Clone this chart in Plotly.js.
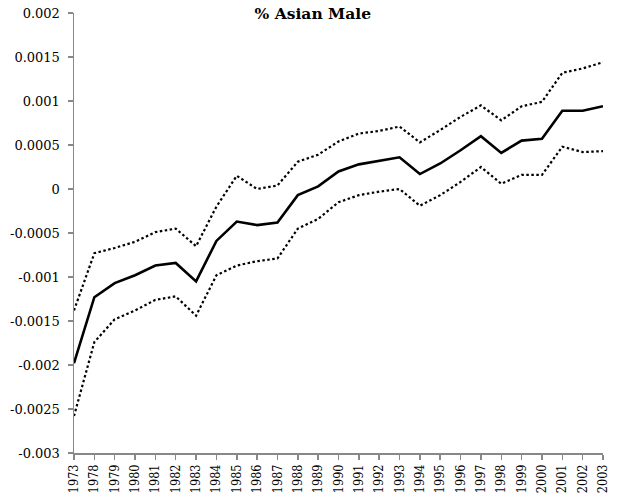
<!DOCTYPE html>
<html>
<head>
<meta charset="utf-8">
<script src="https://cdn.plot.ly/plotly-3.0.1.min.js"></script>
<style>html,body{margin:0;padding:0;background:#fff}#chart{width:617px;height:497px}</style>
</head>
<body>
<div id="chart"></div>
<script>
const years = ["1973","1978","1979","1980","1981","1982","1983","1984","1985","1986","1987","1988","1989","1990","1991","1992","1993","1994","1995","1996","1997","1998","1999","2000","2001","2002","2003"];
const estimate = [-0.00198,-0.00123,-0.00107,-0.00098,-0.00087,-0.00084,-0.00105,-0.00059,-0.00037,-0.00041,-0.00038,-0.00007,0.00003,0.0002,0.00028,0.00032,0.00036,0.00017,0.00029,0.00044,0.0006,0.00041,0.00055,0.00057,0.00089,0.00089,0.00094];
const upper = [-0.00138,-0.00073,-0.00067,-0.0006,-0.00049,-0.00045,-0.00065,-0.0002,0.00015,0.0,0.00004,0.00031,0.00039,0.00054,0.00063,0.00066,0.00071,0.00053,0.00067,0.00082,0.00095,0.00078,0.00094,0.00099,0.00132,0.00137,0.00144];
const lower = [-0.00258,-0.00174,-0.00148,-0.00138,-0.00126,-0.00122,-0.00144,-0.00098,-0.00087,-0.00082,-0.00079,-0.00045,-0.00034,-0.00015,-0.00007,-0.00003,0.0,-0.00019,-0.00007,0.00008,0.00025,0.00006,0.00016,0.00016,0.00048,0.00042,0.00043];
const yTickVals = [0.002,0.0015,0.001,0.0005,0,-0.0005,-0.001,-0.0015,-0.002,-0.0025,-0.003];
const yTickText = ["0.002","0.0015","0.001","0.0005","0","-0.0005","-0.001","-0.0015","-0.002","-0.0025","-0.003"];
const titleText = "% Asian Male";

const serif = "DejaVu Serif";
const traces = [
  {x: years, y: upper, type: "scatter", mode: "lines", line: {color: "#000", width: 2.2, dash: "2.5px,2.5px"}, hoverinfo: "skip"},
  {x: years, y: lower, type: "scatter", mode: "lines", line: {color: "#000", width: 2.2, dash: "2.5px,2.5px"}, hoverinfo: "skip"},
  {x: years, y: estimate, type: "scatter", mode: "lines", line: {color: "#000", width: 2.6}, hoverinfo: "skip"}
];
const layout = {
  width: 617, height: 497,
  font: {family: serif},
  margin: {l: 74, r: 14, t: 13, b: 44, pad: 0},
  paper_bgcolor: "#fff", plot_bgcolor: "#fff",
  showlegend: false,
  title: {text: "<b>" + titleText + "</b>", font: {family: serif, size: 15.5, color: "#000"}, xref: "container", x: 0.507, xanchor: "center", yref: "container", y: 0.972, yanchor: "middle"},
  xaxis: {
    type: "category", range: [0, years.length - 1], showgrid: false, zeroline: false,
    showline: true, linecolor: "#888", linewidth: 1.5,
    ticks: "outside", ticklen: 5, tickwidth: 1.5, tickcolor: "#888",
    tickangle: -90, tickfont: {family: "DejaVu Serif Condensed", size: 12.5, color: "#000"}, automargin: false
  },
  yaxis: {
    range: [-0.003, 0.002], tickvals: yTickVals, ticktext: yTickText, showgrid: false, zeroline: false,
    showline: true, linecolor: "#888", linewidth: 1.5,
    ticks: "outside", ticklen: 5, tickwidth: 1.5, tickcolor: "#888",
    ticklabelstandoff: 5,
    tickfont: {family: serif, size: 13, color: "#000"}, automargin: false
  }
};
Plotly.newPlot("chart", traces, layout, {staticPlot: true, displayModeBar: false});
</script>
</body>
</html>
